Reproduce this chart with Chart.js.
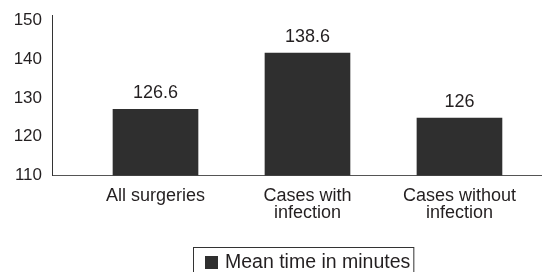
<!DOCTYPE html>
<html>
<head>
<meta charset="utf-8">
<script src="https://cdn.jsdelivr.net/npm/chart.js@4"></script>
<style>
  html, body { margin: 0; padding: 0; background: #fff; }
  #wrap { width: 542px; height: 272px; position: relative; }
</style>
</head>
<body>
<div id="wrap"><canvas id="chart"></canvas></div>
<script>
// categories and values
const categories = [['All surgeries'], ['Cases with', 'infection'], ['Cases without', 'infection']];
const barHeights = [127.1, 141.6, 124.8];
const barLabels = ['126.6', '138.6', '126'];
const yTicks = [110, 120, 130, 140, 150];
const seriesName = 'Mean time in minutes';

const FONT = "'Liberation Sans', Arial, sans-serif";
const TEXT = '#231f20';
const BAR = '#2f2f2f';

// value labels above each bar
const valueLabels = {
    id: 'valueLabels',
    afterDatasetsDraw(chart) {
        const ctx = chart.ctx;
        const meta = chart.getDatasetMeta(0);
        ctx.save();
        ctx.font = '18px ' + FONT;
        ctx.fillStyle = TEXT;
        ctx.textAlign = 'center';
        ctx.textBaseline = 'alphabetic';
        meta.data.forEach((bar, i) => {
            ctx.fillText(barLabels[i], bar.x, bar.y - 11);
        });
        ctx.restore();
    }
};

// boxed legend, partly cut by the bottom edge like the original
const boxLegend = {
    id: 'boxLegend',
    afterDraw(chart) {
        const ctx = chart.ctx;
        const ds = chart.data.datasets[0];
        ctx.save();
        ctx.font = '19.5px ' + FONT;
        const tw = ctx.measureText(ds.label).width;
        const left = 193.5, top = 247.5;
        const w = 12 + 13 + 7 + tw + 3;
        ctx.strokeStyle = '#333';
        ctx.lineWidth = 1;
        ctx.strokeRect(left, top, w, 40);
        ctx.fillStyle = ds.backgroundColor;
        ctx.fillRect(left + 11.5, 256, 13, 13);
        ctx.fillStyle = TEXT;
        ctx.textBaseline = 'middle';
        ctx.textAlign = 'left';
        ctx.fillText(ds.label, left + 31.5, 263);
        ctx.restore();
    }
};

new Chart(document.getElementById('chart'), {
    type: 'bar',
    data: {
        datasets: [{
            label: seriesName,
            data: barHeights.map((v, i) => ({ x: i + 1, y: v })),
            backgroundColor: BAR,
            borderWidth: 0,
            barThickness: 85
        }]
    },
    options: {
        responsive: true,
        maintainAspectRatio: false,
        animation: false,
        layout: { padding: { top: 15, left: 0, right: 0, bottom: 0 } },
        plugins: {
            legend: { display: false },
            tooltip: { enabled: false }
        },
        scales: {
            x: {
                type: 'linear',
                offset: false,
                min: 0.319,
                max: 3.543,
                grid: { display: false, drawTicks: false, offset: false },
                border: { display: true, color: '#555', width: 1 },
                afterBuildTicks(scale) {
                    scale.ticks = [1, 2, 3].map(v => ({ value: v }));
                },
                afterFit(scale) {
                    scale.height = 96.5;
                    scale.paddingLeft = 0;
                    scale.paddingRight = 0;
                },
                ticks: {
                    autoSkip: false,
                    maxRotation: 0,
                    padding: 12,
                    color: TEXT,
                    font: { family: FONT, size: 18, lineHeight: 0.95 },
                    callback: v => categories[v - 1] || ''
                }
            },
            y: {
                min: 110,
                max: 151.4,
                grid: { display: false, drawTicks: false },
                border: { display: true, color: '#333', width: 1 },
                afterBuildTicks(scale) {
                    scale.ticks = yTicks.map(v => ({ value: v }));
                },
                afterFit(scale) {
                    scale.width = 52;
                    scale.paddingTop = 0;
                    scale.paddingBottom = 0;
                },
                ticks: {
                    padding: 10,
                    color: TEXT,
                    font: { family: FONT, size: 17 }
                }
            }
        }
    },
    plugins: [valueLabels, boxLegend]
});
</script>
</body>
</html>
